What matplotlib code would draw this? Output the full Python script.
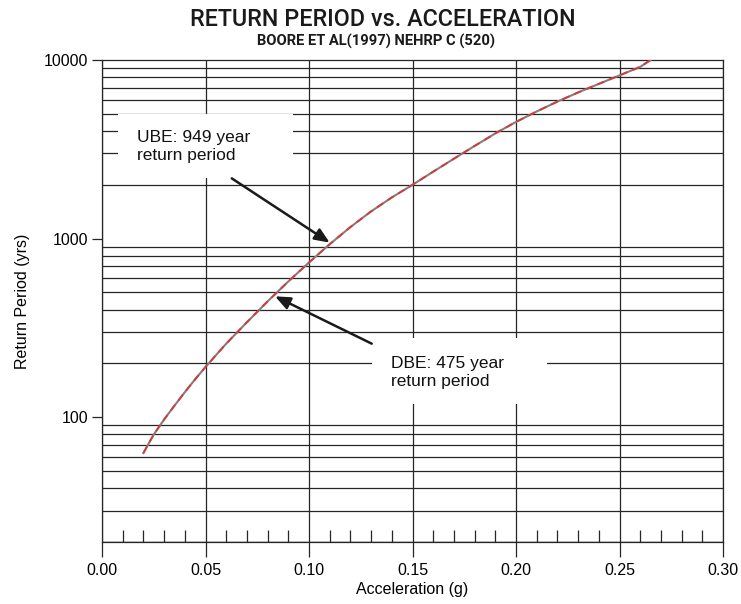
import matplotlib
matplotlib.use("Agg")
import matplotlib.pyplot as plt
from matplotlib.patches import Rectangle
from matplotlib.ticker import FixedLocator, MultipleLocator, NullFormatter

# ── Data
accel = [0.020, 0.025, 0.030, 0.035, 0.040, 0.045, 0.050, 0.060, 0.070,
         0.080, 0.090, 0.100, 0.110, 0.120, 0.130, 0.140, 0.150, 0.160,
         0.170, 0.180, 0.190, 0.200, 0.210, 0.220, 0.230, 0.240, 0.250,
         0.260, 0.265]
ret_period = [63, 80, 97, 116, 138, 163, 191, 258, 340,
              445, 575, 735, 930, 1160, 1420, 1700, 2000, 2370,
              2800, 3300, 3880, 4500, 5150, 5850, 6580, 7350, 8200,
              9150, 10000]

x_ticks = [0.00, 0.05, 0.10, 0.15, 0.20, 0.25, 0.30]
y_major = [100, 1000, 10000]
y_grid = [v * m for m in (10, 100, 1000) for v in range(2, 10)] + [20]

ube_point = (0.110, 949)
dbe_point = (0.0836, 475)
ube_label = "UBE: 949 year\nreturn period"
dbe_label = "DBE: 475 year\nreturn period"
title = "RETURN PERIOD vs. ACCELERATION"
subtitle = "BOORE ET AL(1997) NEHRP C (520)"

GRID = "#262626"
SANS = ["Liberation Sans", "DejaVu Sans"]
TITLE_FONT = ["Roboto", "Liberation Sans", "DejaVu Sans"]
plt.rcParams["font.family"] = SANS

fig = plt.figure(figsize=(7.41, 6.04), dpi=100)
ax = fig.add_axes([102 / 741, 62 / 604, 621 / 741, 482 / 604])

ax.set_yscale("log")
ax.set_xlim(0, 0.30)
ax.set_ylim(20, 10000)

# gridlines drawn by hand so every minor decade line shows
for v in y_grid:
    ax.axhline(v, color=GRID, lw=0.9, zorder=1)
for v in x_ticks:
    ax.axvline(v, color=GRID, lw=0.9, zorder=1)

ax.xaxis.set_major_locator(FixedLocator(x_ticks))
ax.xaxis.set_minor_locator(MultipleLocator(0.01))
ax.set_xticklabels([f"{v:.2f}" for v in x_ticks])
ax.yaxis.set_major_locator(FixedLocator(y_major))
ax.yaxis.set_minor_locator(FixedLocator([]))
ax.yaxis.set_minor_formatter(NullFormatter())
ax.set_yticklabels([str(v) for v in y_major])

ax.tick_params(axis="x", which="major", direction="out", length=11,
               width=0.9, color=GRID, labelsize=11.5, pad=4)
ax.tick_params(axis="x", which="minor", direction="in", length=9,
               width=0.9, color=GRID)
ax.tick_params(axis="y", which="major", direction="out", length=7,
               width=0.9, color=GRID, labelsize=11.5, pad=3)
for s in ax.spines.values():
    s.set_color(GRID)
    s.set_linewidth(0.9)

# white label boxes that cut the grid
ax.add_patch(Rectangle((0.0077, 2173), 0.0846, 4990 - 2173,
                       facecolor="white", edgecolor="none", zorder=2))
ax.add_patch(Rectangle((0.1304, 118), 0.0846, 276 - 118,
                       facecolor="white", edgecolor="none", zorder=2))
ax.text(0.0169, 3260, ube_label, fontsize=12.5, va="center", ha="left",
        color="#111111", zorder=4, linespacing=1.25)
ax.text(0.1395, 178, dbe_label, fontsize=12.5, va="center", ha="left",
        color="#111111", zorder=4, linespacing=1.25)

# curve: grey core with red dashes, like the scan
ax.plot(accel, ret_period, color="#8a7a7a", lw=1.5, zorder=3)
ax.plot(accel, ret_period, color="#d23a3a", lw=1.3, zorder=3,
        dashes=(4, 3))

arrow = dict(arrowstyle="-|>,head_length=0.9,head_width=0.38",
             color="#1a1a1a", lw=1.8, shrinkA=0, shrinkB=0)
ax.annotate("", xy=ube_point, xytext=(0.0627, 2173), arrowprops=arrow,
            zorder=5)
ax.annotate("", xy=dbe_point, xytext=(0.1303, 258), arrowprops=arrow,
            zorder=5)

ax.set_xlabel("Acceleration (g)", fontsize=11.5, labelpad=3)
ax.set_ylabel("Return Period (yrs)", fontsize=11.5, labelpad=10)

t1 = fig.text(383 / 741, 1 - 19.5 / 604, title, ha="center", va="center",
              fontsize=17, family=TITLE_FONT, fontweight="medium",
              color="#1a1a1a")
t2 = fig.text(376 / 741, 1 - 41.5 / 604, subtitle, ha="center",
              va="center", fontsize=10.5, family=TITLE_FONT,
              fontweight="bold", color="#1a1a1a")

# squeeze the heading fonts to the widths seen on the scan
renderer = fig.canvas.get_renderer()
for txt, target in ((t1, 387), (t2, 240)):
    w = txt.get_window_extent(renderer).width
    txt.set_fontsize(txt.get_fontsize() * target / w)

fig.savefig("out.png", dpi=100)
